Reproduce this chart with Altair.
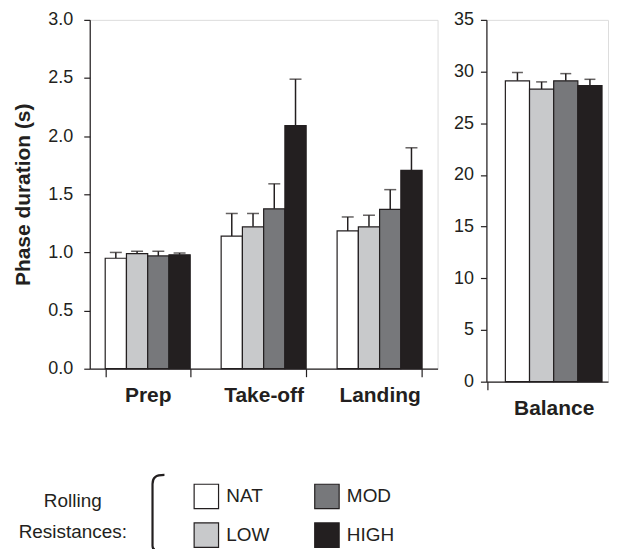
import altair as alt
import pandas as pd

# ---- data ----
levels = ["NAT", "LOW", "MOD", "HIGH"]
level_colors = ["#ffffff", "#c8c9cb", "#77787b", "#231f20"]
legend_title = ["Rolling", "Resistances:"]

phases = ["Prep", "Take-off", "Landing"]
nat_mean = [0.95, 1.14, 1.185]
low_mean = [0.99, 1.22, 1.22]
mod_mean = [0.97, 1.375, 1.37]
high_mean = [0.98, 2.09, 1.705]
nat_sd = [0.05, 0.195, 0.12]
low_sd = [0.02, 0.115, 0.10]
mod_sd = [0.04, 0.215, 0.17]
high_sd = [0.015, 0.40, 0.195]

balance = ["Balance"]
bal_mean = [29.1, 28.3, 29.1, 28.65]
bal_sd = [0.8, 0.7, 0.7, 0.6]

y_left_ticks = [0.0, 0.5, 1.0, 1.5, 2.0, 2.5, 3.0]
y_right_ticks = [0, 5, 10, 15, 20, 25, 30, 35]

# ---- tables ----
rows = []
for lvl, means, sds in zip(levels, [nat_mean, low_mean, mod_mean, high_mean],
                           [nat_sd, low_sd, mod_sd, high_sd]):
    for ph, m, s in zip(phases, means, sds):
        rows.append({"phase": ph, "level": lvl, "mean": m, "sd": s})
df_left = pd.DataFrame(rows)
df_right = pd.DataFrame({"phase": balance * 4, "level": levels,
                         "mean": bal_mean, "sd": bal_sd})

INK = "#231f20"
FONT = "Liberation Sans"

fill_scale = alt.Scale(domain=levels, range=level_colors)

legend = alt.Legend(
    title=None,
    orient="none", legendX=104, legendY=465,
    columns=2, direction="vertical",
    symbolType="square", symbolSize=600, symbolStrokeColor=INK,
    symbolStrokeWidth=1.2, symbolOpacity=1,
    labelFontSize=19, labelFont=FONT, labelColor=INK, labelOffset=7,
    rowPadding=9, columnPadding=42, padding=0,
)


def panel(df, cats, ydomain, yticks, yfmt, width, height, xscale,
          xaxis_extra, ylabpad, ytitle, cap, show_legend, extra=None):
    x = alt.X("phase:N", sort=cats, scale=xscale, title=None,
              axis=alt.Axis(labelAngle=0, labelFontWeight="bold",
                            labelFontSize=21, labelFont=FONT, labelColor=INK,
                            tickSize=8, tickColor=INK,
                            domainColor=INK, labelPadding=8,
                            domainWidth=1.2, tickWidth=1.2, **xaxis_extra))
    xo = alt.XOffset("level:N", sort=levels,
                     scale=alt.Scale(paddingInner=0, paddingOuter=0))
    yaxis = alt.Axis(values=yticks, format=yfmt, grid=False,
                     labelFontSize=18, labelFont=FONT, labelColor=INK,
                     tickSize=6, tickColor=INK, domainColor=INK,
                     labelPadding=ylabpad, domainWidth=1.2, tickWidth=1.2,
                     title=ytitle, titleFontSize=21, titleFont=FONT,
                     titleFontWeight="bold", titleColor=INK, titlePadding=14)
    y = alt.Y("mean:Q", scale=alt.Scale(domain=ydomain, nice=False),
              axis=yaxis)
    base = alt.Chart(df).transform_calculate(upper="datum.mean + datum.sd")
    bars = base.mark_bar(stroke=INK, strokeWidth=1.2).encode(
        x=x, xOffset=xo, y=y,
        fill=alt.Fill("level:N", scale=fill_scale,
                      legend=legend if show_legend else None))
    rule = base.mark_rule(color=INK, strokeWidth=1.5).encode(
        x=x, xOffset=xo, y="mean:Q", y2="upper:Q")
    tick = base.mark_tick(orient="horizontal", color=INK, size=cap,
                          thickness=1.5).encode(x=x, xOffset=xo,
                                                y="upper:Q")
    layers = [rule, tick, bars]
    if extra is not None:
        layers.extend(extra)
    return alt.layer(*layers).properties(width=width, height=height)


# decorations of the legend: its two-line title and the bracket
title_l1 = alt.Chart(pd.DataFrame({"t": legend_title[:1]})).mark_text(
    font=FONT, fontSize=19, color=INK, align="center", baseline="middle",
).encode(text="t:N", x=alt.value(-17), y=alt.value(483))
title_l2 = alt.Chart(pd.DataFrame({"t": legend_title[1:]})).mark_text(
    font=FONT, fontSize=19, color=INK, align="center", baseline="middle",
).encode(text="t:N", x=alt.value(-17), y=alt.value(514))

bracket = alt.Chart(pd.DataFrame({"b": [0]})).mark_point(
    shape="M 0.32 -1 C 0.08 -1 0 -0.93 0 -0.76 L 0 0.9 C 0 0.96 0.02 0.99 0.06 1",
    filled=False, stroke=INK, strokeWidth=2.2, size=5600, opacity=1,
).encode(x=alt.value(63), y=alt.value(494))

left = panel(df_left, phases, [0, 3], y_left_ticks, ".1f", 349, 350,
             alt.Scale(paddingInner=0.267, paddingOuter=0.1335),
             {"tickBand": "extent"}, 11, "Phase duration (s)", 12, True,
             [bracket, title_l1, title_l2])
right = panel(df_right, balance, [0, 35], y_right_ticks, "d", 122, 363,
              alt.Scale(paddingInner=0, paddingOuter=0.129, align=0.76),
              {"tickOffset": -67, "labelOffset": 67},
              7, None, 11, False)

chart = alt.hconcat(left, right, spacing=14).resolve_scale(
    fill="shared", xOffset="independent").properties(
    padding={"left": 4, "top": 1, "right": 0, "bottom": 0}
).configure_view(stroke=None).configure(font=FONT)

chart.save("out.html", embed_options={"renderer": "svg", "actions": False})
